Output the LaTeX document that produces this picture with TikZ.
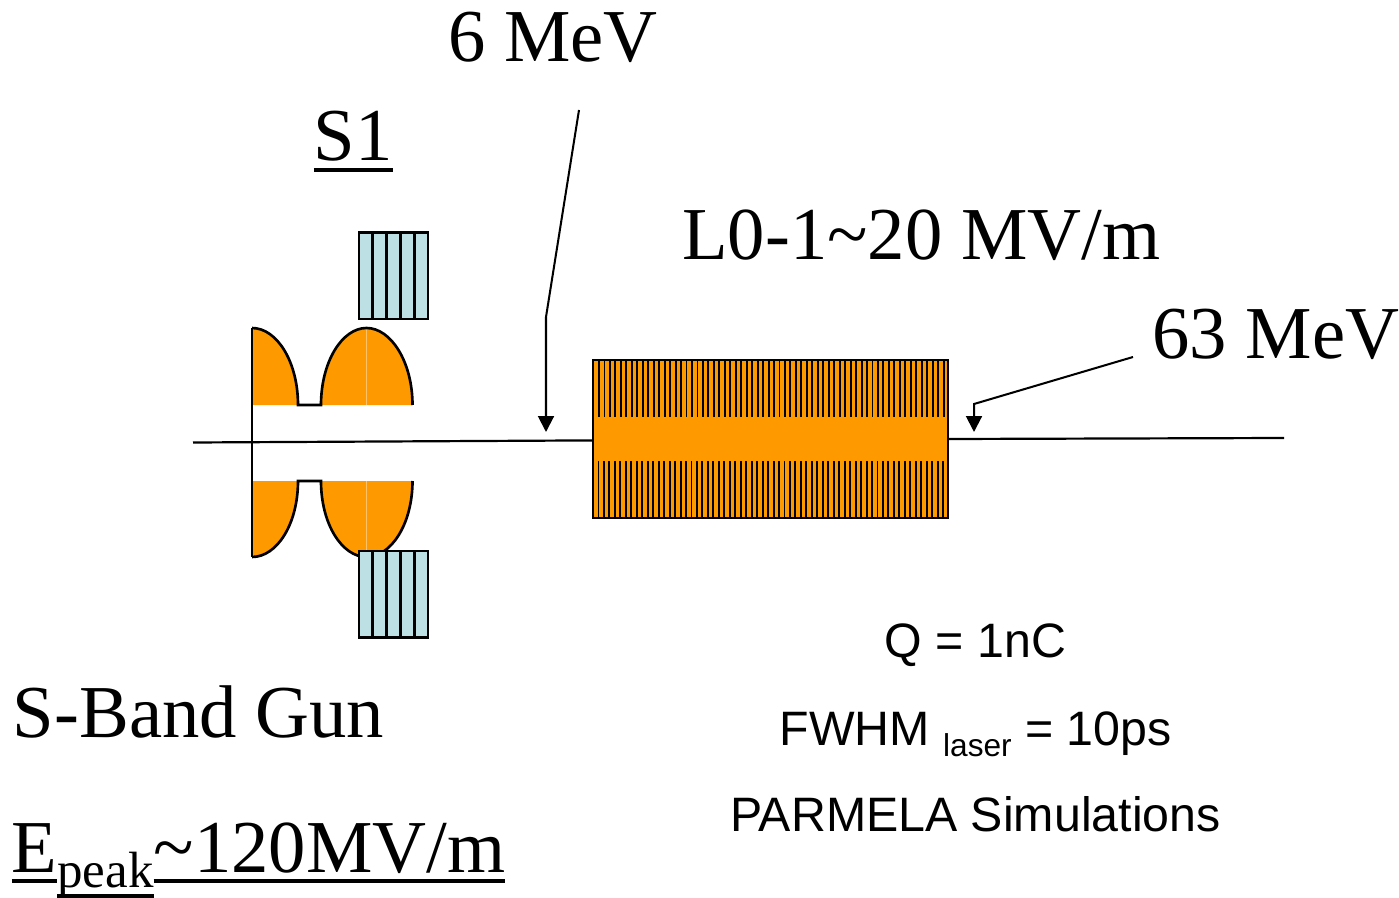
\documentclass[tikz,border=0pt]{standalone}
\usepackage{fontspec}
\setmainfont{Liberation Serif}
\newfontfamily\arialfont{Liberation Sans}
\usetikzlibrary{arrows.meta}
\definecolor{cavity}{HTML}{FF9900}
\definecolor{coil}{HTML}{BCE0E4}
\newsavebox{\ulbox}
\newcommand{\ulabel}[2][-6.2pt]{\sbox{\ulbox}{#2}\rlap{\rule[#1]{\wd\ulbox}{2.2pt}}\usebox{\ulbox}}
\tikzset{
  bigtext/.style={anchor=base west,inner sep=0pt,font=\fontsize{42.5}{50}\selectfont},
  infotext/.style={anchor=base,inner sep=0pt,font=\arialfont\fontsize{27.5}{34}\selectfont},
  beamline/.style={line width=1.25pt},
  wall/.style={line width=1.5pt},
  tick/.style={line width=1.1pt},
  callout/.style={line width=1.15pt,-{Triangle[width=9pt,length=9pt]}}
}
\begin{document}
\begin{tikzpicture}[x=0.02cm,y=-0.02cm]
  \useasboundingbox (0,0) rectangle (1399,898);
  % Gun cells, top half then bottom half
  \fill[cavity] (252,328) .. controls (277,328) and (298,362) .. (298,405) -- (252,405) -- cycle;
  \fill[cavity] (321,405) .. controls (321,362) and (342,328) .. (366.5,328) .. controls (391,328) and (412.5,362) .. (412.5,405) -- cycle;
  \fill[cavity] (252,557) .. controls (277,557) and (298,524) .. (298,481) -- (252,481) -- cycle;
  \fill[cavity] (321,481) .. controls (321,524) and (342,557) .. (366.5,557) .. controls (391,557) and (412.5,524) .. (412.5,481) -- cycle;
  \draw[cavity!60!white,very thin] (366.5,328)--(366.5,405) (366.5,481)--(366.5,557);
  \draw[wall] (252,328) .. controls (277,328) and (298,362) .. (298,405) -- (321,405)
     .. controls (321,362) and (342,328) .. (366.5,328) .. controls (391,328) and (412.5,362) .. (412.5,405);
  \draw[wall] (252,557) .. controls (277,557) and (298,524) .. (298,481) -- (321,481)
     .. controls (321,524) and (342,557) .. (366.5,557) .. controls (391,557) and (412.5,524) .. (412.5,481);
  \draw[wall] (252,328)--(252,557);
  % Coils above and below the gun
  \foreach \ytop in {232.5,551}{
    \fill[coil] (359,\ytop) rectangle (428,\ytop+86.5);
    \foreach \i in {0,...,5}{
      \draw[wall] ({359+\i*13.8},\ytop)--({359+\i*13.8},\ytop+86.5);
    }
    \draw[wall] (359,\ytop) rectangle (428,\ytop+86.5);
  }
  % Linac section
  \node[draw=black,fill=cavity,line width=1.4pt,minimum width=7.1cm,minimum height=3.16cm,inner sep=0pt] (linac) at (770.5,439) {};
  \foreach \i in {0,...,63}{
    \draw[tick] ({599+\i*5.47},360)--({599+\i*5.47},417);
    \draw[tick] ({598.5+\i*5.47},461)--({598.5+\i*5.47},518);
  }
  % Beam line
  \coordinate (beamin) at (193,442.5);
  \coordinate (beamout) at (1284,438);
  \draw[beamline] (beamin)--([yshift=-0.8pt]linac.west);
  \draw[beamline] (linac.east)--(beamout);
  % Labels
  \node[bigtext] (sixmev) at (448,62) {6 MeV};
  \node[bigtext] (sone) at (313.5,161) {\ulabel{S1}};
  \node[bigtext] (lzero) at (682,260) {L0-1\textasciitilde20 MV/m};
  \node[bigtext] (sixtythree) at (1152,358) {63 MeV};
  \node[bigtext] (gun) at (12.5,737) {S-Band Gun};
  \node[bigtext] (epeak) at (11.5,872) {\ulabel{E}\raisebox{-9pt}{\fontsize{29}{30}\selectfont\ulabel[-5.6pt]{peak}}\ulabel{\textasciitilde120MV/m}};
  \node[infotext] (charge) at (975.5,657) {Q = 1nC};
  \node[infotext] (fwhm) at (975.5,745) {FWHM \raisebox{-6.3pt}{\fontsize{18}{20}\selectfont laser} = 10ps};
  \node[infotext] (parmela) at (975.5,831) {PARMELA Simulations};
  % Energy callouts
  \coordinate (sixfrom) at (579,110);
  \coordinate (sixbend) at (546,317);
  \coordinate (sixto) at (546,432);
  \coordinate (highfrom) at (1133,357);
  \coordinate (highbend) at (974,404);
  \coordinate (highto) at (974,432);
  \draw[callout] (sixfrom)--(sixbend)--(sixto);
  \draw[callout] (highfrom)--(highbend)--(highto);
\end{tikzpicture}
\end{document}
